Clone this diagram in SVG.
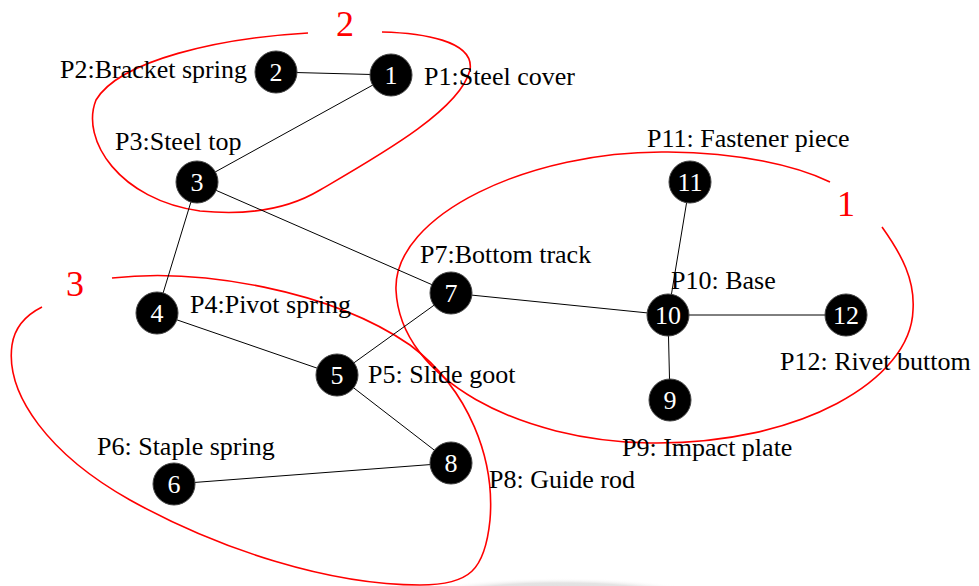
<svg xmlns="http://www.w3.org/2000/svg" width="979" height="586" viewBox="0 0 979 586">
<defs>
<radialGradient id="sh" cx="0.5" cy="0.5" r="0.5">
<stop offset="0" stop-color="#d6d6d6"/>
<stop offset="0.7" stop-color="#e4e4e4"/>
<stop offset="1" stop-color="#ffffff" stop-opacity="0"/>
</radialGradient>
</defs>
<style>
.n{fill:#000;stroke:#444;stroke-width:1}
.nt{font-family:"Liberation Serif","Times New Roman",serif;font-size:26px;fill:#fff;text-anchor:middle}
.lb{font-family:"Liberation Serif","Times New Roman",serif;font-size:26px;fill:#000}
.e{stroke:#000;stroke-width:1;fill:none}
.g{stroke:#ff0000;stroke-width:1.6;fill:none}
.gt{font-family:"Liberation Serif","Times New Roman",serif;font-size:36px;fill:#ff0000;text-anchor:middle}
</style>
<rect width="979" height="586" fill="#fff"/>
<ellipse cx="560" cy="594" rx="140" ry="16" fill="url(#sh)"/>
<g id="groups">
<path class="g" d="M308,33 C220,38 120,60 96,100 C80,140 120,200 200,211 C250,216 290,208 320,190 C380,155 460,110 470,70 C475,40 420,33 382,32"/>
<path class="g" d="M882,227 C902,255 915,280 913,310 C911,380 800,445 650,443 C520,441 400,380 396,290 C393,215 530,150 668,152 C740,153 795,165 830,182"/>
<path class="g" d="M112,278 C200,268 330,290 410,345 C470,390 495,460 490,520 C485,570 470,585 420,585 C330,585 220,550 130,500 C50,455 5,395 12,345 C15,325 28,314 42,307"/>
<text class="gt" x="345" y="36">2</text>
<text class="gt" x="846" y="216">1</text>
<text class="gt" x="75" y="296">3</text>
</g>
<g id="edges">
<line class="e" x1="276" y1="72" x2="391" y2="75"/>
<line class="e" x1="391" y1="75" x2="197" y2="182"/>
<line class="e" x1="197" y1="182" x2="157" y2="313"/>
<line class="e" x1="197" y1="182" x2="451" y2="293"/>
<line class="e" x1="157" y1="313" x2="337" y2="375"/>
<line class="e" x1="337" y1="375" x2="451" y2="293"/>
<line class="e" x1="337" y1="375" x2="451" y2="463"/>
<line class="e" x1="174" y1="484" x2="451" y2="463"/>
<line class="e" x1="451" y1="293" x2="668" y2="315"/>
<line class="e" x1="668" y1="315" x2="690" y2="182"/>
<line class="e" x1="668" y1="315" x2="846" y2="315"/>
<line class="e" x1="668" y1="315" x2="670" y2="400"/>
</g>
<g id="node1"><circle class="n" cx="391" cy="75" r="21"/><text class="nt" x="391" y="84">1</text><text class="lb" x="424" y="85">P1:Steel cover</text></g>
<g id="node2"><circle class="n" cx="276" cy="72" r="21"/><text class="nt" x="276" y="81">2</text><text class="lb" x="247" y="78" text-anchor="end">P2:Bracket spring</text></g>
<g id="node3"><circle class="n" cx="197" cy="182" r="21"/><text class="nt" x="197" y="191">3</text><text class="lb" x="115" y="150">P3:Steel top</text></g>
<g id="node4"><circle class="n" cx="157" cy="313" r="21"/><text class="nt" x="157" y="322">4</text><text class="lb" x="190" y="313">P4:Pivot spring</text></g>
<g id="node5"><circle class="n" cx="337" cy="375" r="21"/><text class="nt" x="337" y="384">5</text><text class="lb" x="368" y="383">P5: Slide goot</text></g>
<g id="node6"><circle class="n" cx="174" cy="484" r="21"/><text class="nt" x="174" y="493">6</text><text class="lb" x="97" y="455">P6: Staple spring</text></g>
<g id="node7"><circle class="n" cx="451" cy="293" r="21"/><text class="nt" x="451" y="302">7</text><text class="lb" x="420" y="263">P7:Bottom track</text></g>
<g id="node8"><circle class="n" cx="451" cy="463" r="21"/><text class="nt" x="451" y="472">8</text><text class="lb" x="489" y="488">P8: Guide rod</text></g>
<g id="node9"><circle class="n" cx="670" cy="400" r="21"/><text class="nt" x="670" y="409">9</text><text class="lb" x="622" y="456">P9: Impact plate</text></g>
<g id="node10"><circle class="n" cx="668" cy="315" r="21"/><text class="nt" x="668" y="324">10</text><text class="lb" x="671" y="289">P10: Base</text></g>
<g id="node11"><circle class="n" cx="690" cy="182" r="21"/><text class="nt" x="690" y="191">11</text><text class="lb" x="647" y="147">P11: Fastener piece</text></g>
<g id="node12"><circle class="n" cx="846" cy="315" r="21"/><text class="nt" x="846" y="324">12</text><text class="lb" x="780" y="370">P12: Rivet buttom</text></g>
</svg>
